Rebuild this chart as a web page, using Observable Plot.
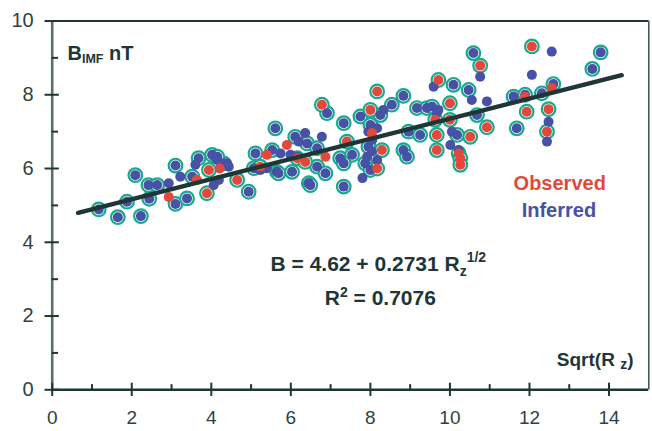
<!DOCTYPE html>
<html><head><meta charset="utf-8">
<script src="https://cdn.jsdelivr.net/npm/d3@7"></script>
<script src="https://cdn.jsdelivr.net/npm/@observablehq/plot@0.6"></script>
<style>
body{margin:0;background:#fff;}
#chart{width:652px;height:431px;}
</style></head><body><div id="chart"></div>
<script>
// Tick values
const xMajor = [0, 2, 4, 6, 8, 10, 12, 14];
const xMinor = [1, 3, 5, 7, 9, 11, 13];
const yMajor = [0, 2, 4, 6, 8, 10];
const yMinor = [1, 3, 5, 7, 9];

// Fit shown on chart: B = 4.62 + 0.2731 * sqrt(Rz)
const fitIntercept = 4.62;
const fitSlope = 0.2731;
const fitRangeX = [0.65, 14.32];

// Inferred (blue) points with a ring
const blueRing = [[1.17,4.89],[1.65,4.68],[2.23,4.71],[2.09,5.82],[1.88,5.10],[2.42,5.55],[2.64,5.55],[2.44,5.18],[3.10,6.08],[3.10,5.04],[3.39,5.19],[3.68,6.28],[4.02,6.37],[3.52,5.78],[4.31,6.14],[4.15,6.32],[4.94,5.37],[5.11,6.41],[5.53,6.50],[5.65,5.91],[5.61,7.09],[6.11,6.86],[6.41,6.68],[5.07,6.01],[5.69,5.87],[6.03,5.91],[6.45,5.60],[6.91,7.50],[8.83,7.97],[8.54,7.73],[8.25,7.45],[7.75,7.41],[7.33,7.23],[8.00,7.18],[9.17,7.64],[9.42,7.64],[8.96,7.00],[9.25,6.91],[6.66,6.55],[6.66,6.05],[6.87,5.87],[7.24,6.28],[7.54,6.37],[7.33,6.14],[7.95,6.59],[7.87,6.14],[8.00,5.96],[8.83,6.50],[8.92,6.32],[6.49,5.55],[7.33,5.51],[10.09,8.27],[10.47,8.13],[9.55,7.68],[10.68,7.45],[10.18,6.91],[10.59,9.13],[11.60,7.95],[11.89,8.00],[12.31,8.04],[11.68,7.09],[12.60,8.29],[13.79,9.15],[13.58,8.70]];
// Inferred (blue) points without ring
const bluePlain = [[2.93,5.60],[3.22,5.78],[3.60,6.10],[4.15,6.23],[4.40,6.14],[4.19,5.69],[4.06,5.55],[4.44,6.05],[5.23,5.96],[5.40,6.01],[5.74,6.41],[5.99,6.37],[6.20,6.73],[6.36,6.96],[6.78,6.86],[6.16,6.32],[8.33,7.59],[8.17,7.09],[7.95,7.00],[9.67,7.50],[8.04,6.46],[7.92,6.32],[8.17,6.23],[9.59,8.22],[9.71,7.59],[10.55,7.86],[10.93,7.82],[10.76,8.49],[10.05,7.00],[10.01,6.64],[10.22,6.50],[12.06,8.54],[12.56,9.17],[12.48,7.27],[12.44,6.73],[7.80,5.74],[8.05,6.78]];
// Observed (red) points with a ring
const redRing = [[3.89,5.33],[4.65,5.69],[3.94,5.96],[6.16,6.28],[6.36,6.18],[6.78,7.73],[8.17,8.09],[8.00,7.59],[7.41,6.73],[8.29,6.50],[8.17,6.00],[9.71,8.40],[10.00,7.77],[10.00,7.32],[9.63,7.32],[9.67,6.91],[9.67,6.50],[10.51,6.86],[10.93,7.12],[10.22,6.41],[10.26,6.28],[10.26,6.10],[10.76,8.79],[12.06,9.31],[11.93,7.54],[12.48,7.61],[12.44,7.00],[5.23,6.05]];
// Observed (red) points without ring
const redPlain = [[2.93,5.23],[3.64,5.69],[4.21,6.00],[5.40,6.37],[5.90,6.64],[6.87,6.32],[8.04,6.96],[11.89,7.95],[12.56,8.18]];

const teal = "#17a98d", blue = "#4751a5", red = "#e2493b", dark = "#1e3637";
const labelColor = "#2f4242";

const fitLine = fitRangeX.map(x => ({x, y: fitIntercept + fitSlope * x}));
const ringAll = blueRing.concat(redRing);
const blueAll = blueRing.concat(bluePlain);
const redAll = redRing.concat(redPlain);

const eqText = "B = 4.62 + 0.2731 Rz1/2";
const r2Text = "R2 = 0.7076";
const yTitle = "BIMF nT";
const xTitle = "Sqrt(R z)";

const chart = Plot.plot({
  width: 652, height: 431,
  marginLeft: 51.7, marginRight: 3.7, marginTop: 20.5, marginBottom: 41.7,
  style: {fontFamily: "'Liberation Sans', Arial, sans-serif", background: "white"},
  x: {domain: [0, 15]},
  y: {domain: [0, 10]},
  marks: [
    // tick labels
    Plot.axisX(xMajor, {tickSize: 0, tickPadding: 21, fontSize: 19, fill: labelColor, label: null}),
    Plot.axisY(yMajor, {tickSize: 0, tickPadding: 18.5, fontSize: 20, fill: labelColor, label: null}),
    // frame
    Plot.ruleY([10], {stroke: dark, strokeWidth: 2}),
    Plot.ruleX([15], {stroke: "#4a5858", strokeWidth: 1.6}),
    Plot.ruleX([0], {stroke: "#5f6c6c", strokeWidth: 2.6}),
    Plot.ruleY([0], {stroke: dark, strokeWidth: 2.6}),
    // ticks
    Plot.ruleX(xMajor, {x: d => d, y1: -0.18, y2: 0.18, stroke: dark, strokeWidth: 2}),
    Plot.ruleX(xMinor, {x: d => d, y1: 0, y2: 0.14, stroke: dark, strokeWidth: 2}),
    Plot.ruleY(yMajor, {y: d => d, x1: -0.18, x2: 0.18, stroke: dark, strokeWidth: 2}),
    Plot.ruleY(yMinor, {y: d => d, x1: 0, x2: 0.16, stroke: dark, strokeWidth: 2}),
    // points
    Plot.dot(ringAll, {x: d => d[0], y: d => d[1], r: 6.8, fill: "white", stroke: teal, strokeWidth: 2.2}),
    Plot.dot(blueAll, {x: d => d[0], y: d => d[1], r: 5, fill: blue}),
    Plot.dot(redAll, {x: d => d[0], y: d => d[1], r: 5, fill: red}),
    // fit line
    Plot.line(fitLine, {x: "x", y: "y", stroke: dark, strokeWidth: 4.3}),
    // legend-ish labels
    Plot.text(["Observed"], {x: 12.76, y: 5.60, text: d => d, fill: red, fontSize: 20, fontWeight: "bold"}),
    Plot.text(["Inferred"], {x: 12.74, y: 4.85, text: d => d, fill: blue, fontSize: 20, fontWeight: "bold"}),
    // equation
    Plot.text([eqText], {x: 8.2, y: 3.40, text: d => d, fill: dark, fontSize: 21, fontWeight: "bold"}),
    Plot.text([r2Text], {x: 8.25, y: 2.47, text: d => d, fill: dark, fontSize: 21, fontWeight: "bold"}),
    // axis titles
    Plot.text([yTitle], {frameAnchor: "top-left", dx: 15.3, dy: 25.2, textAnchor: "start", text: d => d, fill: dark, fontSize: 20, fontWeight: "bold"}),
    Plot.text([xTitle], {frameAnchor: "bottom-right", dx: -15.3, dy: -24.2, textAnchor: "end", text: d => d, fill: dark, fontSize: 19, fontWeight: "bold"})
  ]
});
document.getElementById("chart").appendChild(chart);

// rich text (sub/superscripts)
const svg = d3.select(chart);
function rich(content, parts) {
  svg.selectAll("text").filter(function() { return this.textContent === content; }).each(function() {
    const t = d3.select(this);
    t.text("");
    for (const p of parts) {
      const s = t.append("tspan").text(p.t);
      if (p.size) s.attr("font-size", p.size);
      if (p.dy) s.attr("dy", p.dy);
    }
  });
}
rich(eqText, [{t: "B = 4.62 + 0.2731 R"}, {t: "z", size: 14, dy: 5}, {t: "1/2", size: 14, dy: -14}]);
rich(r2Text, [{t: "R"}, {t: "2", size: 14, dy: -8}, {t: " = 0.7076", dy: 8}]);
rich(yTitle, [{t: "B"}, {t: "IMF", size: 12.5, dy: 3}, {t: " nT", dy: -3}]);
rich(xTitle, [{t: "Sqrt(R "}, {t: "z", size: 14, dy: 3}, {t: ")", dy: -3}]);
</script>
</body></html>
